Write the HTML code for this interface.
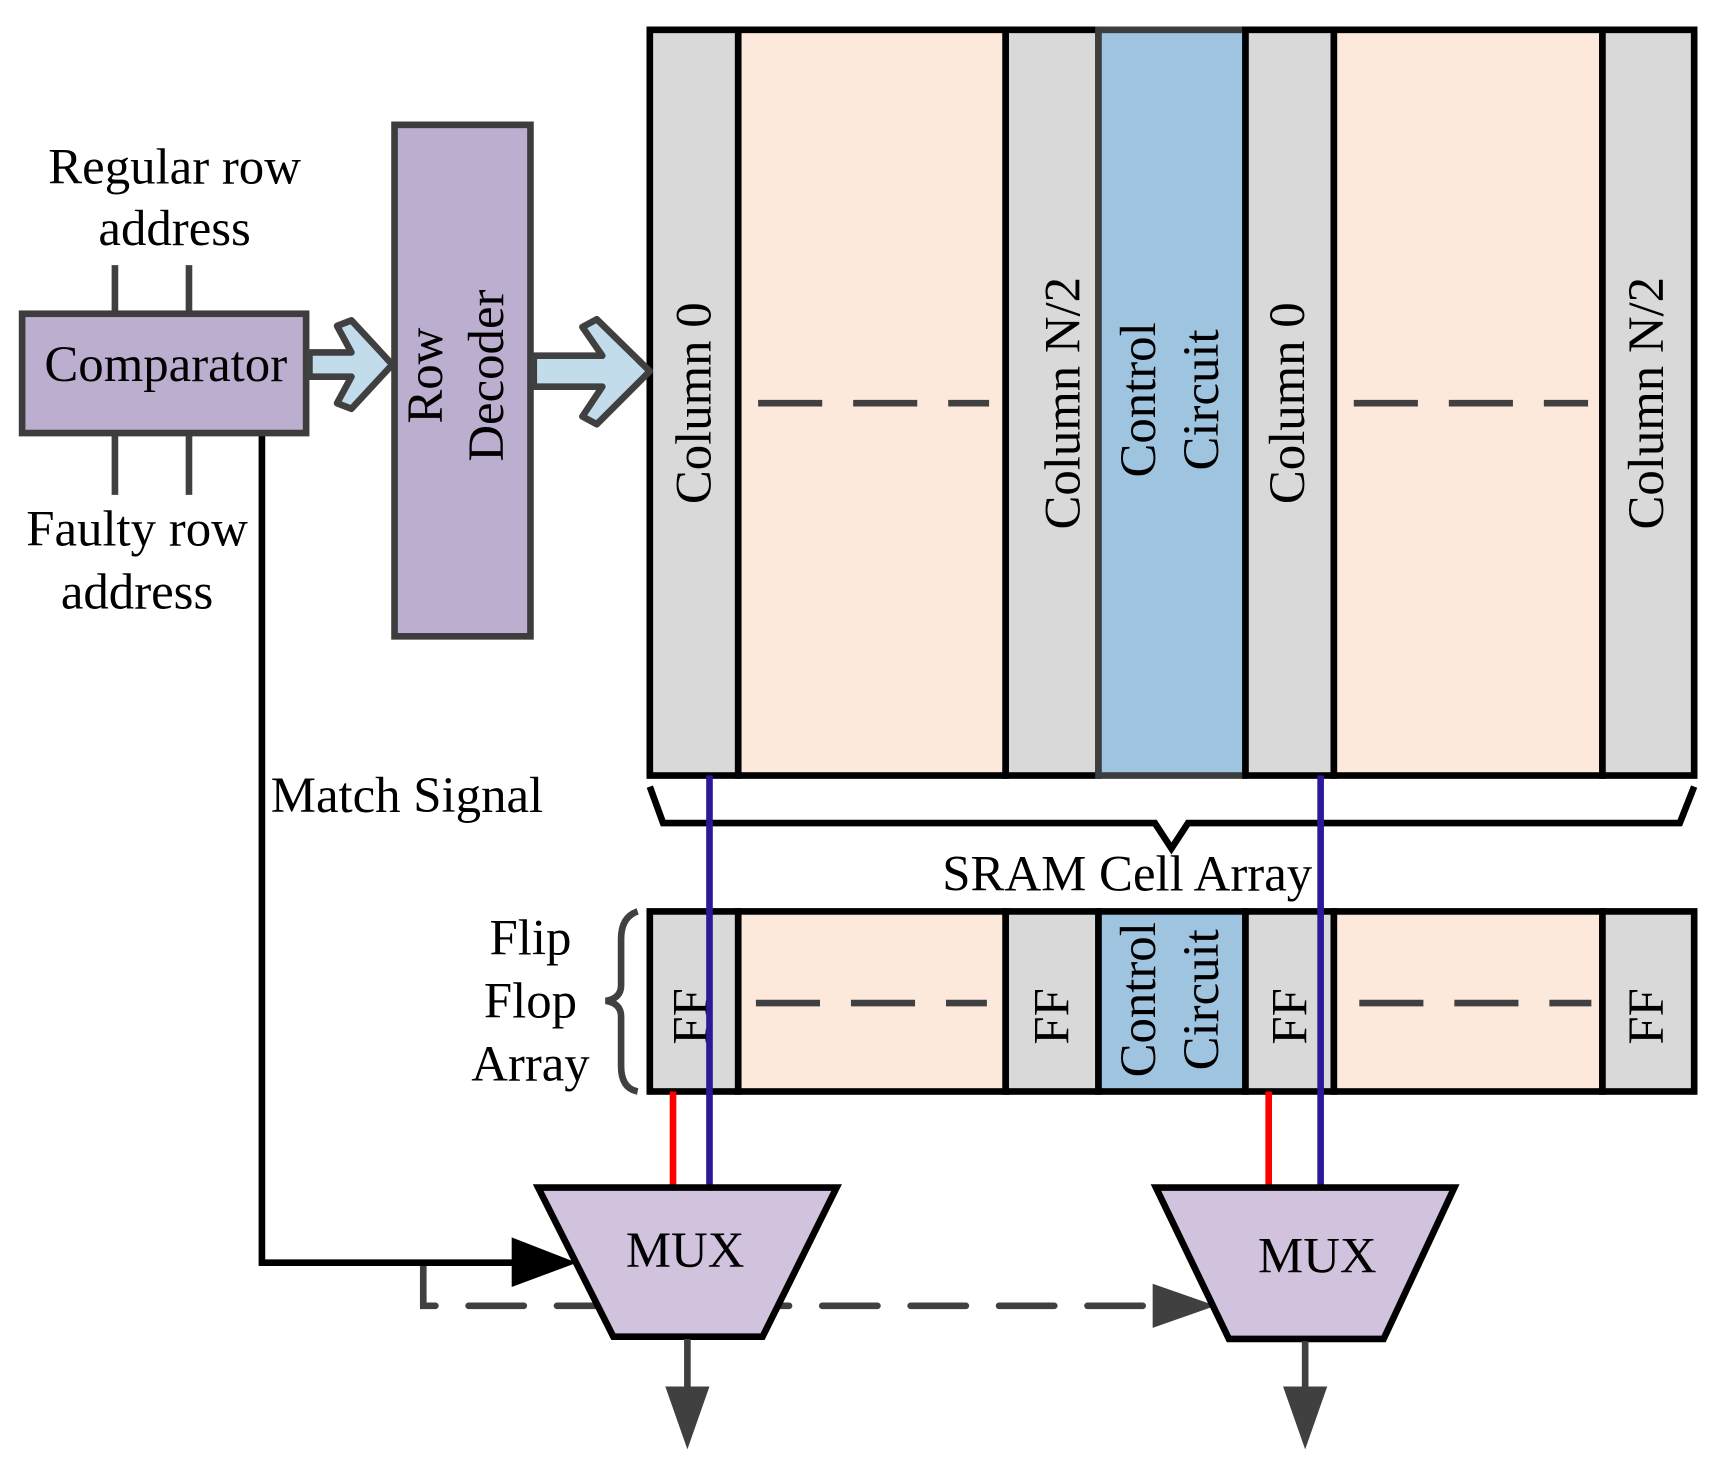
<!DOCTYPE html>
<html><head><meta charset="utf-8"><style>
html,body{margin:0;padding:0;background:#fff;}
svg{display:block;}
text{font-family:"Liberation Serif",serif;fill:#000;}
</style></head><body>
<svg width="1724" height="1466" viewBox="0 0 1560 1327" preserveAspectRatio="none" xmlns="http://www.w3.org/2000/svg">
<!-- top array -->
<g stroke="#000" stroke-width="6">
<rect x="588" y="27" width="80" height="675" fill="#d9d9d9"/>
<rect x="668" y="27" width="242" height="675" fill="#fde9db"/>
<rect x="910" y="27" width="84" height="675" fill="#d9d9d9"/>
<rect x="994" y="27" width="133" height="675" fill="#9fc4e0" stroke="#3d3d3d"/>
<rect x="1127" y="27" width="80" height="675" fill="#d9d9d9"/>
<rect x="1207" y="27" width="243" height="675" fill="#fde9db"/>
<rect x="1450" y="27" width="83" height="675" fill="#d9d9d9"/>
</g>
<g stroke="#404040" stroke-width="6" stroke-dasharray="58,28">
<line x1="686" y1="365" x2="895" y2="365"/>
<line x1="1225" y1="365" x2="1437" y2="365"/>
</g>
<g font-size="46" text-anchor="middle">
<text transform="translate(643,365) rotate(-90)">Column 0</text>
<text transform="translate(977,365) rotate(-90)">Column N/2</text>
<text transform="translate(1045,362) rotate(-90)">Control</text>
<text transform="translate(1102,362) rotate(-90)">Circuit</text>
<text transform="translate(1180,365) rotate(-90)">Column 0</text>
<text transform="translate(1505,365) rotate(-90)">Column N/2</text>
</g>
<!-- brace -->
<path d="M588,712 L600,745 L1045,745 L1060,768 L1075,745 L1520,745 L1533,712" fill="none" stroke="#000" stroke-width="6"/>
<text x="1020" y="806" font-size="46" text-anchor="middle">SRAM Cell Array</text>
<!-- FF array -->
<g stroke="#000" stroke-width="6">
<rect x="588" y="825" width="80" height="163" fill="#d9d9d9"/>
<rect x="668" y="825" width="242" height="163" fill="#fde9db"/>
<rect x="910" y="825" width="84" height="163" fill="#d9d9d9"/>
<rect x="994" y="825" width="133" height="163" fill="#9fc4e0"/>
<rect x="1127" y="825" width="80" height="163" fill="#d9d9d9"/>
<rect x="1207" y="825" width="243" height="163" fill="#fde9db"/>
<rect x="1450" y="825" width="83" height="163" fill="#d9d9d9"/>
</g>
<g stroke="#404040" stroke-width="6" stroke-dasharray="58,28">
<line x1="684" y1="908" x2="893" y2="908"/>
<line x1="1230" y1="908" x2="1440" y2="908"/>
</g>
<g font-size="46" text-anchor="middle">
<text transform="translate(640,920) rotate(-90)">FF</text>
<text transform="translate(967,920) rotate(-90)">FF</text>
<text transform="translate(1045,905) rotate(-90)">Control</text>
<text transform="translate(1102,905) rotate(-90)">Circuit</text>
<text transform="translate(1182,920) rotate(-90)">FF</text>
<text transform="translate(1505,920) rotate(-90)">FF</text>
</g>
<path d="M577,825 Q562,830 562,850 L562,892 Q562,904 548,906 Q562,908 562,920 L562,965 Q562,985 577,988" fill="none" stroke="#404040" stroke-width="6"/>
<g font-size="46" text-anchor="middle">
<text x="480" y="864">Flip</text>
<text x="480" y="921">Flop</text>
<text x="480" y="978">Array</text>
</g>
<!-- vertical signal lines -->
<g stroke-width="6">
<line x1="642" y1="702" x2="642" y2="1073" stroke="#2a1a9a"/>
<line x1="1195" y1="702" x2="1195" y2="1073" stroke="#2a1a9a"/>
<line x1="609" y1="988" x2="609" y2="1073" stroke="#ff0000"/>
<line x1="1148" y1="988" x2="1148" y2="1073" stroke="#ff0000"/>
</g>
<!-- dashed line -->
<path d="M383,1143 L383,1182 L1050,1182" fill="none" stroke="#404040" stroke-width="6" stroke-dasharray="50,30" stroke-linecap="round"/>
<polygon points="1043,1162 1100,1182 1043,1202" fill="#404040"/>
<!-- match signal -->
<path d="M237,392 L237,1143 L470,1143" fill="none" stroke="#000" stroke-width="6"/>
<polygon points="463,1120 522,1143 463,1165" fill="#000"/>
<text x="245" y="735" font-size="46">Match Signal</text>
<!-- MUXes -->
<polygon points="487,1075 757,1075 690,1210 555,1210" fill="#d1c3de" stroke="#000" stroke-width="6"/>
<text x="620" y="1147" font-size="46" text-anchor="middle">MUX</text>
<polygon points="1046,1075 1316,1075 1252,1212 1112,1212" fill="#d1c3de" stroke="#000" stroke-width="6"/>
<text x="1192" y="1152" font-size="46" text-anchor="middle">MUX</text>
<g stroke="#404040" stroke-width="6">
<line x1="622" y1="1212" x2="622" y2="1260"/>
<line x1="1181" y1="1214" x2="1181" y2="1260"/>
</g>
<polygon points="602,1255 642,1255 622,1312" fill="#404040"/>
<polygon points="1161,1255 1201,1255 1181,1312" fill="#404040"/>
<!-- comparator -->
<g stroke="#404040" stroke-width="6">
<line x1="104" y1="240" x2="104" y2="284"/>
<line x1="171" y1="240" x2="171" y2="284"/>
<line x1="104" y1="392" x2="104" y2="448"/>
<line x1="171" y1="392" x2="171" y2="448"/>
</g>
<rect x="20" y="284" width="257" height="108" fill="#bcaecf" stroke="#3d3d3d" stroke-width="6"/>
<text x="150" y="345" font-size="46" text-anchor="middle">Comparator</text>
<g font-size="46" text-anchor="middle">
<text x="158" y="166">Regular row</text>
<text x="158" y="222">address</text>
<text x="124" y="494">Faulty row</text>
<text x="124" y="551">address</text>
</g>
<!-- hollow arrows -->
<polygon points="280,319 318,319 305,295 318,290 355,330 318,370 305,365 318,341 280,341" fill="#c2dcec" stroke="#404040" stroke-width="6" stroke-linejoin="round"/>
<rect x="357" y="113" width="123" height="463" fill="#bcaecf" stroke="#3d3d3d" stroke-width="6"/>
<g font-size="46" text-anchor="middle">
<text transform="translate(400,340) rotate(-90)">Row</text>
<text transform="translate(455,340) rotate(-90)">Decoder</text>
</g>
<polygon points="483,322 545,322 527,296 540,289 588,336 540,384 527,377 545,350 483,350" fill="#c2dcec" stroke="#404040" stroke-width="6" stroke-linejoin="round"/>
</svg>
</body></html>
